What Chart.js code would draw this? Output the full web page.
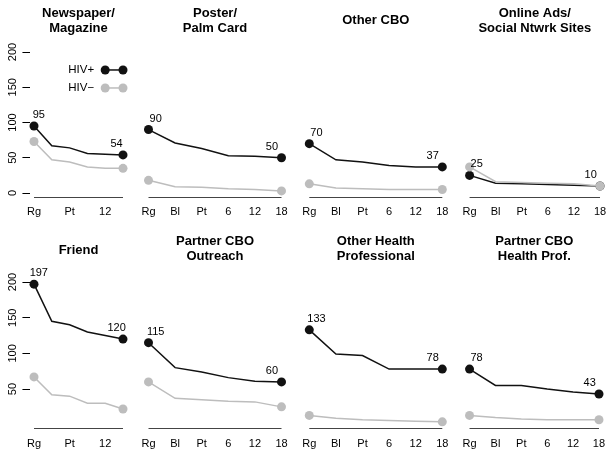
<!DOCTYPE html>
<html><head><meta charset="utf-8">
<script src="https://cdn.jsdelivr.net/npm/chart.js@4/dist/chart.umd.min.js"></script>
<style>
html,body{margin:0;padding:0;background:#fff;}
#wrap{position:relative;width:615px;height:456px;overflow:hidden;}
#wrap canvas{position:absolute;left:0;top:0;}
</style></head>
<body><div id="wrap"></div>
<script>
// ---------- data ----------
const categories = ["Rg", "Bl", "Pt", "6", "12", "18"];
const seriesNames = ["HIV+", "HIV\u2212"];
const panelTitles = [
  ["Newspaper/", "Magazine"], ["Poster/", "Palm Card"], "Other CBO", ["Online Ads/", "Social Ntwrk Sites"],
  "Friend", ["Partner CBO", "Outreach"], ["Other Health", "Professional"], ["Partner CBO", "Health Prof."]
];
const newspaperPos   = [95, 67, 64, 56, 55, 54];
const newspaperNeg   = [73, 47, 44, 37, 35, 35];
const posterPos      = [90, 71, 63, 53, 52, 50];
const posterNeg      = [18, 9, 8, 6, 5, 3];
const otherCboPos    = [70, 47, 44, 39, 37, 37];
const otherCboNeg    = [13, 7, 6, 5, 5, 5];
const onlinePos      = [25, 14, 13, 12, 11, 10];
const onlineNeg      = [37, 16, 15, 14, 13, 10];
const friendPos      = [197, 145, 140, 130, 125, 120];
const friendNeg      = [67, 42, 40, 30, 30, 22];
const outreachPos    = [115, 80, 74, 66, 61, 60];
const outreachNeg    = [60, 37, 35, 33, 32, 25];
const otherHealthPos = [133, 99, 97, 78, 78, 78];
const otherHealthNeg = [13, 9, 7, 6, 5, 4];
const cboHealthPos   = [78, 55, 55, 50, 46, 43];
const cboHealthNeg   = [13, 10, 8, 7, 7, 7];
const topYTicks    = [0, 50, 100, 150, 200];
const bottomYTicks = [50, 100, 150, 200];

// ---------- layout (positions / styles) ----------
const FONT = "'Liberation Sans', Arial, Helvetica, sans-serif";
Chart.defaults.font.family = FONT;
Chart.defaults.font.size = 11;
Chart.defaults.color = '#000';

const W = 615, H = 456, XH = 26;
const rows = [
  { canvasTop: 0,   line1: 13,    single: 20.5,  areaTop: 47.77, areaBottom: 197.23, yMin: -6, yMax: 206, ticks: topYTicks, tickPad: 8.5 },
  { canvasTop: 228, line1: 241.3, single: 250.5, areaTop: 277.05, areaBottom: 428.27, yMin: -5, yMax: 207, ticks: bottomYTicks, tickPad: 9.5 }
];
const cols = [
  { first: 34,    last: 123,   sparse: true,  yAxis: true },
  { first: 148.5, last: 281.5, sparse: false, yAxis: false },
  { first: 309.3, last: 442.3, sparse: false, yAxis: false },
  { first: 469.7, last: 603,   sparse: false, yAxis: false }
];
const panelSeries = [
  [newspaperPos, newspaperNeg], [posterPos, posterNeg], [otherCboPos, otherCboNeg], [onlinePos, onlineNeg],
  [friendPos, friendNeg], [outreachPos, outreachNeg], [otherHealthPos, otherHealthNeg], [cboHealthPos, cboHealthNeg]
];
const COL_POS = '#111111', COL_NEG = '#bdbdbd';

const baselinePlugin = {
  id: 'baseline',
  beforeDatasetsDraw(chart) {
    const { ctx, chartArea, scales: { x } } = chart;
    const y = Math.round(chartArea.bottom) + 0.5;
    ctx.save();
    ctx.strokeStyle = '#444'; ctx.lineWidth = 1;
    ctx.beginPath();
    ctx.moveTo(x.getPixelForValue(1), y);
    ctx.lineTo(x.getPixelForValue(categories.length), y);
    ctx.stroke();
    ctx.restore();
  }
};

const valueLabelPlugin = {
  id: 'valueLabels',
  afterDatasetsDraw(chart) {
    const { ctx, scales: { x } } = chart;
    const meta = chart.getDatasetMeta(0);
    const ds = chart.data.datasets[0];
    const n = ds.data.length;
    ctx.save();
    ctx.font = '11px ' + FONT;
    ctx.fillStyle = '#000';
    ctx.textAlign = 'center';
    ctx.textBaseline = 'middle';
    [[0, 0.27], [n - 1, -0.36]].forEach(([i, dx]) => {
      const pt = meta.data[i];
      ctx.fillText(String(ds.data[i].y), x.getPixelForValue(ds.data[i].x + dx), pt.y - 11);
    });
    ctx.restore();
  }
};

const legendPlugin = {
  id: 'miniLegend',
  afterDraw(chart, args, opts) {
    if (!opts || !opts.show) return;
    const { ctx, chartArea, scales: { x } } = chart;
    const xa = x.getPixelForValue(5), xb = x.getPixelForValue(6);
    ctx.save();
    chart.data.datasets.forEach((ds, k) => {
      const y = chartArea.top + 22.2 + k * 18;
      ctx.font = '11.5px ' + FONT;
      ctx.fillStyle = '#000';
      ctx.textAlign = 'right';
      ctx.textBaseline = 'middle';
      ctx.fillText(ds.label, xa - 11, y);
      ctx.strokeStyle = ds.borderColor; ctx.lineWidth = 1.5;
      ctx.beginPath(); ctx.moveTo(xa, y); ctx.lineTo(xb, y); ctx.stroke();
      ctx.fillStyle = ds.borderColor;
      [xa, xb].forEach(px => { ctx.beginPath(); ctx.arc(px, y, 4.5, 0, Math.PI * 2); ctx.fill(); });
    });
    ctx.restore();
  }
};

const wrap = document.getElementById('wrap');
panelTitles.forEach((title, p) => {
  const row = rows[Math.floor(p / 4)];
  const col = cols[p % 4];
  const sp = (col.last - col.first) / (categories.length - 1);
  const areaLeft = col.first - 0.2 * sp;
  const areaRight = col.last + 0.2 * sp;
  const lines = Array.isArray(title) ? title.length : 1;
  const c1 = lines === 2 ? row.line1 : row.single;
  const pt = c1 - row.canvasTop - 7.5;
  const pb = row.areaTop - row.canvasTop - pt - 15 * lines;
  const [posVals, negVals] = panelSeries[p];
  const pointR = (ctx) => (ctx.dataIndex === 0 || ctx.dataIndex === categories.length - 1) ? 4.5 : 0;

  const cv = document.createElement('canvas');
  cv.width = W; cv.height = H;
  wrap.appendChild(cv);

  new Chart(cv, {
    type: 'line',
    data: {
      datasets: [
        { label: seriesNames[0], data: posVals.map((v, i) => ({ x: i + 1, y: v })), borderColor: COL_POS, backgroundColor: COL_POS,
          borderWidth: 1.5, pointRadius: pointR, pointBorderWidth: 0, pointBackgroundColor: COL_POS, tension: 0, order: 1 },
        { label: seriesNames[1], data: negVals.map((v, i) => ({ x: i + 1, y: v })), borderColor: COL_NEG, backgroundColor: COL_NEG,
          borderWidth: 1.5, pointRadius: pointR, pointBorderWidth: 0, pointBackgroundColor: COL_NEG, tension: 0, order: 0 }
      ]
    },
    options: {
      responsive: false, animation: false, devicePixelRatio: 1,
      events: [],
      clip: false,
      layout: { padding: { top: row.canvasTop, left: col.yAxis ? 0 : areaLeft, right: W - areaRight, bottom: H - row.areaBottom - XH } },
      scales: {
        x: {
          type: 'linear', min: 0.8, max: categories.length + 0.2,
          grid: { display: false, drawTicks: false }, border: { display: false },
          afterBuildTicks: s => { s.ticks = categories.map((c, i) => ({ value: i + 1 })); },
          afterFit: s => { s.height = XH; },
          ticks: { autoSkip: false, maxRotation: 0, minRotation: 0, padding: row.tickPad, font: { size: 11 }, color: '#000',
            callback: (v, i) => (col.sparse && i % 2 === 1) ? '' : categories[i] }
        },
        y: {
          display: col.yAxis, min: row.yMin, max: row.yMax,
          afterBuildTicks: s => { s.ticks = row.ticks.map(v => ({ value: v })); },
          afterFit: s => { s.width = col.yAxis ? areaLeft : 0; },
          grid: { display: true, drawOnChartArea: false, drawTicks: true, tickLength: 8, color: '#000', lineWidth: 1 },
          border: { display: false },
          ticks: { minRotation: 90, maxRotation: 90, crossAlign: 'center', padding: 0, font: { size: 11 }, color: '#000',
            callback: v => String(v) }
        }
      },
      plugins: {
        legend: { display: false },
        tooltip: { enabled: false },
        title: { display: true, text: title, fullSize: false, color: '#000',
          font: { size: 13, weight: 'bold', lineHeight: 15 / 13 }, padding: { top: pt, bottom: pb } },
        miniLegend: { show: p === 0 }
      }
    },
    plugins: [baselinePlugin, valueLabelPlugin, legendPlugin]
  });
});
</script>
</body></html>
